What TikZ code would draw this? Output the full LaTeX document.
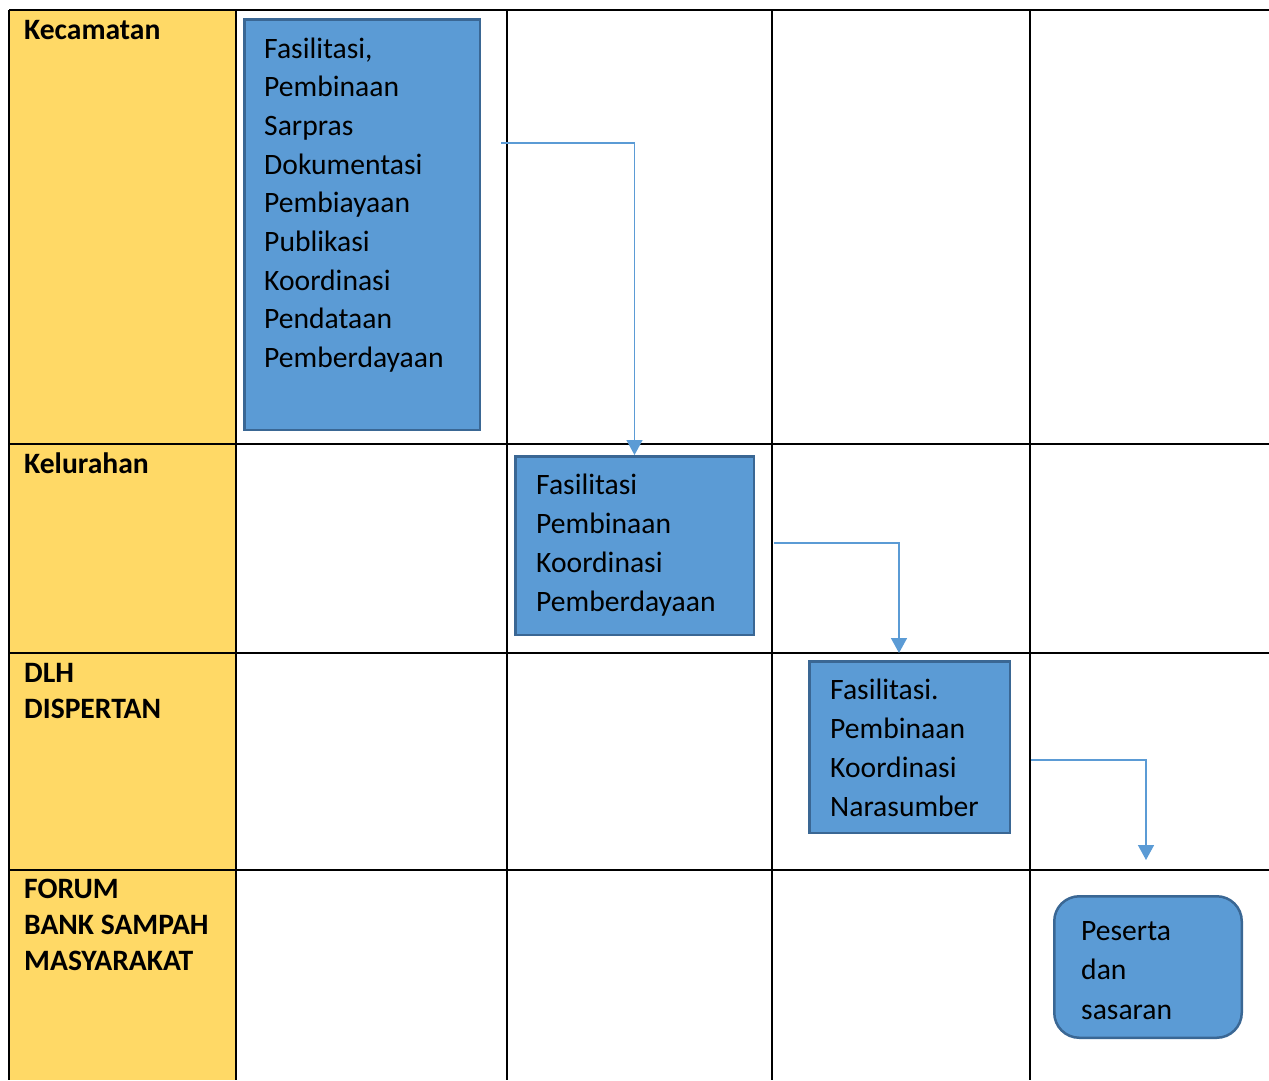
\documentclass[tikz,border=0pt]{standalone}
\usepackage{fontspec}
\setmainfont{Carlito}
\usetikzlibrary{positioning,calc,arrows.meta}
\definecolor{laneyellow}{HTML}{FFD966}
\definecolor{taskblue}{HTML}{5B9BD5}
\definecolor{taskedge}{HTML}{3A6794}

\begin{document}
\begin{tikzpicture}[x=1pt,y=-1pt,
	gridline/.style={black,line width=2.2pt},
	task/.style={draw=taskedge,fill=taskblue,line width=2.5pt,anchor=north west,inner sep=0pt},
	% multi-line nodes: base west sits on the last line
	tasktext/.style={anchor=base west,align=left,inner sep=0pt,font=\fontsize{29.6}{38.7}\selectfont},
	lanetext/.style={anchor=base west,align=left,inner sep=0pt,font=\bfseries\fontsize{29.6}{36}\selectfont},
	flow/.style={taskblue,line width=1.5pt,-{Triangle[width=16pt,length=15pt]}}]
	
	\useasboundingbox (0,0) rectangle (1269,1080);
	
	% swimlane column
	\fill[laneyellow] (9,10) rectangle (236,1080);
	
	% grid
	\foreach \x in {9,236,507,772,1030}
		\draw[gridline] (\x,10) -- (\x,1080);
	\foreach \y in {10,444,653,870}
		\draw[gridline] (9,\y) -- (1269,\y);
	
	% lane labels
	\node[lanetext] (lkec) at (24,39) {Kecamatan};
	\node[lanetext] (lkel) at (24,473) {Kelurahan};
	\node[lanetext] (ldlh) at (24,718) {DLH\\DISPERTAN};
	\node[lanetext] (lfor) at (24,970) {FORUM\\BANK SAMPAH\\MASYARAKAT};
	
	% task boxes
	\node[task,minimum width=235.5,minimum height=410.5] (kec) at (243,18) {};
	\node[tasktext] (tkec) at (264,367.6) {Fasilitasi,\\Pembinaan\\Sarpras\\Dokumentasi\\Pembiayaan\\Publikasi\\Koordinasi\\Pendataan\\Pemberdayaan};
	
	\node[task,minimum width=238.5,minimum height=178.5] (kel) at (514,455) {};
	\node[tasktext] (tkel) at (536,611) {Fasilitasi\\Pembinaan\\Koordinasi\\Pemberdayaan};
	
	\node[task,minimum width=200.5,minimum height=171.5] (dlh) at (808,660) {};
	\node[tasktext] (tdlh) at (830,816) {Fasilitasi.\\Pembinaan\\Koordinasi\\Narasumber};
	
	\node[task,rounded corners=25pt,minimum width=187.5,minimum height=141.5] (for) at (1053,895) {};
	\node[tasktext,font=\fontsize{29.6}{39.2}\selectfont] (tfor) at (1081,1019) {Peserta\\dan\\sasaran};
	
	% flow
	\coordinate (kecout) at (501,143);
	\coordinate (kelout) at (774,543);
	\coordinate (dlhin) at (899,653);
	\coordinate (dlhout) at (1031,760);
	\coordinate (forin) at (1146,860);
	
	\draw[flow] (kecout) -| (kel.north);
	\draw[flow] (kelout) -| (dlhin);
	\draw[flow] (dlhout) -| (forin);
	
\end{tikzpicture}
\end{document}
